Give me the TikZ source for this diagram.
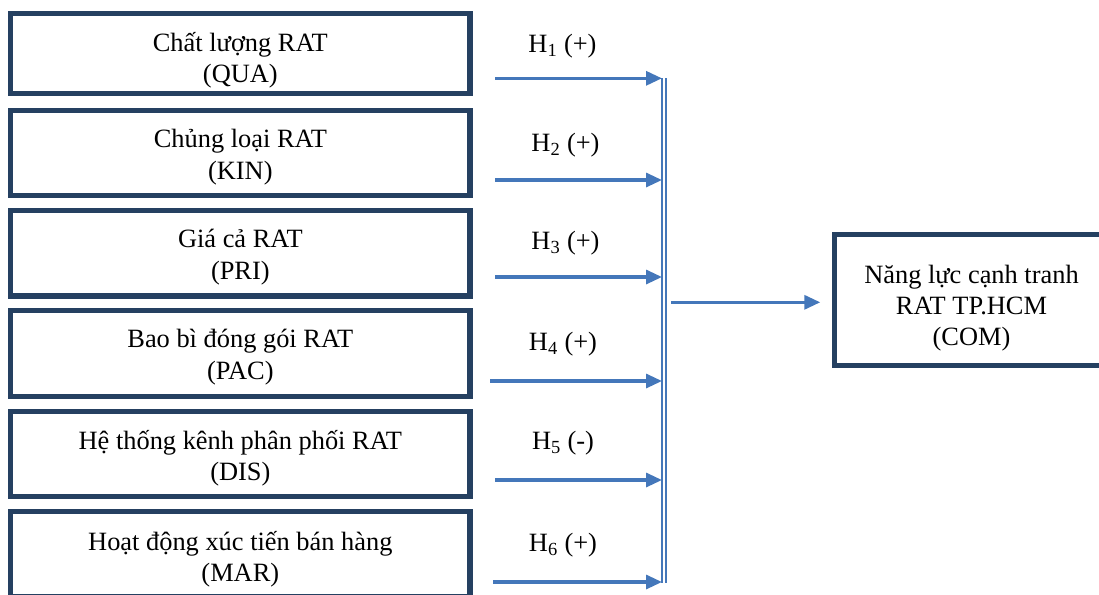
\documentclass[tikz,border=0pt]{standalone}
\usepackage{fontspec}
\setmainfont{Liberation Serif}
\usetikzlibrary{arrows.meta}

\definecolor{boxnavy}{RGB}{37,64,97}
\definecolor{arrowblue}{RGB}{68,119,186}

\tikzset{every picture/.style={line width=0.75pt}}
\tikzset{
  factor/.style={draw=boxnavy, line width=3.8pt, minimum width=344.5pt, minimum height=63.9pt, inner sep=0pt},
  boxtext/.style={inner sep=0pt, align=center, font=\fontsize{19.8}{23.5}\selectfont},
  hlabel/.style={inner sep=0.75pt, font=\fontsize{19.8}{23.5}\selectfont},
  arr/.style={color=arrowblue, line width=2.4pt, -{Triangle[length=12pt,width=10.5pt]}},
  bus/.style={color=arrowblue, line width=1.1pt, double, double distance=2.1pt}
}

\begin{document}
\begin{tikzpicture}[x=0.75pt,y=0.75pt,yscale=-1,xscale=1]
\useasboundingbox (0,0) rectangle (1099,594);
\clip (0,0) rectangle (1099,594);

%Shape: Rectangle [factors]
\draw (240.35,53.4) node [factor, minimum height=60.1pt] (qua) {};
\draw (240.35,152.9) node [factor] (kin) {};
\draw (240.35,253.4) node [factor] (pri) {};
\draw (240.35,353.5) node [factor] (pac) {};
\draw (240.35,453.9) node [factor] (dis) {};
\draw (240.35,554.3) node [factor] (mar) {};
%Shape: Rectangle [result]
\draw (971.5,300.1) node [factor, minimum width=205.2pt, minimum height=98.1pt] (com) {};

% Text Node
\draw (240.35,60.5) node [boxtext] (qua-t) {Chất lượng RAT\\(QUA)};
% Text Node
\draw (240.35,157) node [boxtext] (kin-t) {Chủng loại RAT\\(KIN)};
% Text Node
\draw (240.35,257) node [boxtext] (pri-t) {Giá cả RAT\\(PRI)};
% Text Node
\draw (240.35,357) node [boxtext] (pac-t) {Bao bì đóng gói RAT\\(PAC)};
% Text Node
\draw (240.35,458) node [boxtext] (dis-t) {Hệ thống kênh phân phối RAT\\(DIS)};
% Text Node
\draw (240.35,559) node [boxtext] (mar-t) {Hoạt động xúc tiến bán hàng\\(MAR)};
% Text Node
\draw (971.5,308) node [boxtext] (com-t) {Năng lực cạnh tranh\\RAT TP.HCM\\(COM)};

% Text Node
\draw (562.5,46) node [hlabel] (h1) {H\textsubscript{1} (+)};
% Text Node
\draw (565.5,145) node [hlabel] (h2) {H\textsubscript{2} (+)};
% Text Node
\draw (565.5,243) node [hlabel] (h3) {H\textsubscript{3} (+)};
% Text Node
\draw (563,344) node [hlabel] (h4) {H\textsubscript{4} (+)};
% Text Node
\draw (563,443) node [hlabel] (h5) {H\textsubscript{5} (-)};
% Text Node
\draw (563,545) node [hlabel] (h6) {H\textsubscript{6} (+)};

%Shape: Double line [bus]
\coordinate (bustop) at (664,78);
\coordinate (busbot) at (664,583);
\coordinate (busout) at (671,302.3);
\draw [bus] (bustop) -- (busbot);

% arrows into the bus
\coordinate (s1) at (495,78.3);
\coordinate (s2) at (495,180);
\coordinate (s3) at (495,277);
\coordinate (s4) at (490,381);
\coordinate (s5) at (495,480);
\coordinate (s6) at (493,582);
\foreach \s in {s1,s2,s3,s4,s5,s6}
  \draw [arr, shorten >=1.5pt] (\s) -- (\s -| bustop);

% arrow to result
\draw [arr, shorten >=8.9pt] (busout) -- (busout -| com.west);

\end{tikzpicture}
\end{document}
